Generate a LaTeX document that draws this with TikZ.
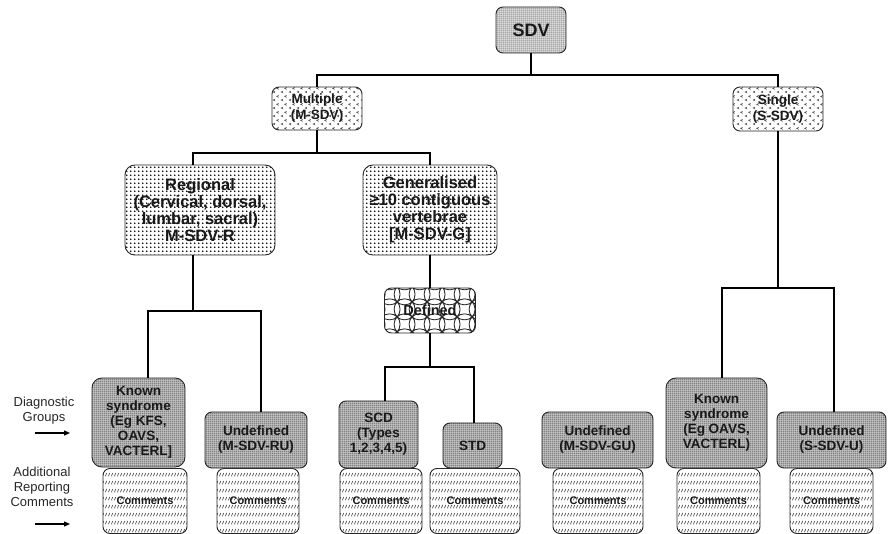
\documentclass[tikz,border=0pt]{standalone}
\usepackage{fontspec}
\setmainfont{Liberation Sans}
\usetikzlibrary{patterns.meta,arrows.meta}

\tikzdeclarepattern{name=sdvdots,type=uncolored,bottom left={(0pt,0pt)},top right={(2.2pt,2.2pt)},tile size={(2.2pt,2.2pt)},
  code={\pgfpathcircle{\pgfpoint{1.1pt}{1.1pt}}{0.7pt}\pgfusepath{fill}}}
\tikzdeclarepattern{name=chevs,type=uncolored,bottom left={(0pt,0pt)},top right={(8pt,8pt)},tile size={(8pt,8pt)},
  code={\pgfsetlinewidth{0.6pt}
    \pgfpathmoveto{\pgfpoint{3.4pt}{3.2pt}}\pgfpathlineto{\pgfpoint{1.4pt}{2.2pt}}\pgfpathlineto{\pgfpoint{3.4pt}{1.2pt}}
    \pgfpathmoveto{\pgfpoint{7.4pt}{7.2pt}}\pgfpathlineto{\pgfpoint{5.4pt}{6.2pt}}\pgfpathlineto{\pgfpoint{7.4pt}{5.2pt}}
    \pgfusepath{stroke}}}
\tikzdeclarepattern{name=coarsedots,type=uncolored,bottom left={(0pt,0pt)},top right={(4.2pt,4.2pt)},tile size={(4.2pt,4.2pt)},
  code={\pgfpathcircle{\pgfpoint{2.1pt}{2.1pt}}{0.95pt}\pgfusepath{fill}}}
\tikzdeclarepattern{name=chain,type=uncolored,bottom left={(0pt,0pt)},top right={(15pt,15pt)},tile size={(15pt,15pt)},
  code={\pgfsetlinewidth{0.9pt}
    \pgfpathcircle{\pgfpoint{0pt}{0pt}}{10.6pt}
    \pgfpathcircle{\pgfpoint{15pt}{0pt}}{10.6pt}
    \pgfpathcircle{\pgfpoint{0pt}{15pt}}{10.6pt}
    \pgfpathcircle{\pgfpoint{15pt}{15pt}}{10.6pt}
    \pgfusepath{stroke}}}
\tikzdeclarepattern{name=stipple,type=uncolored,bottom left={(0pt,0pt)},top right={(2.3pt,2.3pt)},tile size={(2.3pt,2.3pt)},
  code={\pgfpathcircle{\pgfpoint{1.15pt}{1.15pt}}{0.86pt}\pgfusepath{fill}}}
\tikzdeclarepattern{name=hatchrows,type=uncolored,bottom left={(0pt,0pt)},top right={(3pt,7.5pt)},tile size={(3pt,7.5pt)},
  code={\pgfsetlinewidth{0.7pt}
    \pgfpathmoveto{\pgfpoint{0.5pt}{1.8pt}}\pgfpathlineto{\pgfpoint{2.3pt}{5.2pt}}\pgfusepath{stroke}}}

\begin{document}
\begin{tikzpicture}[x=1pt,y=-1pt,
  box/.style={draw=black!85, line width=0.9pt, rounded corners=7pt, inner sep=0pt, align=center, text=black!90},
  sdvbox/.style={box, preaction={fill=black!12}, pattern={sdvdots}, pattern color=black!75, font=\fontsize{18}{20}\selectfont\bfseries},
  typebox/.style={box, pattern={chevs}, pattern color=black!75, font=\fontsize{13.5}{16}\selectfont\bfseries},
  extbox/.style={box, pattern={coarsedots}, pattern color=black, font=\fontsize{16.5}{17}\selectfont\bfseries},
  defbox/.style={box, pattern={chain}, pattern color=black!85, font=\fontsize{14.5}{15}\selectfont\bfseries},
  grpbox/.style={box, preaction={fill=black!18}, pattern={stipple}, pattern color=black!80, font=\fontsize{13.5}{15}\selectfont\bfseries},
  combox/.style={box, pattern={hatchrows}, pattern color=black!80, font=\fontsize{11}{13}\selectfont\bfseries, minimum height=65pt},
  conn/.style={draw=black, line width=2.2pt},
  arr/.style={draw=black, line width=1.2pt, -{Triangle[length=6pt,width=5pt]}},
  lbl/.style={align=center, inner sep=0pt, text=black!85, font=\fontsize{13}{15}\selectfont}]
\useasboundingbox (0,0) rectangle (889,534);

% comments row (drawn first, behind the groups)
\node[combox, minimum width=84pt] (c1) at (145,501) {Comments};
\node[combox, minimum width=82pt] (c2) at (258,501) {Comments};
\node[combox, minimum width=82pt] (c3) at (381,501) {Comments};
\node[combox, minimum width=90pt] (c4) at (475,501) {Comments};
\node[combox, minimum width=90pt] (c5) at (598,501) {Comments};
\node[combox, minimum width=83pt] (c6) at (718.5,501) {Comments};
\node[combox, minimum width=83pt] (c7) at (831.5,501) {Comments};

% boxes
\node[sdvbox, minimum width=70pt, minimum height=46pt] (sdv) at (531,30) {SDV};
\node[typebox, minimum width=90pt, minimum height=43pt] (mult) at (317,108.5) {Multiple\\(M-SDV)};
\node[typebox, minimum width=90pt, minimum height=44pt] (single) at (778,109) {Single\\(S-SDV)};
\node[extbox, minimum width=150pt, minimum height=90pt, rounded corners=10pt] (reg) at (200,210)
  {Regional\\(Cervical, dorsal,\\lumbar, sacral)\\M-SDV-R};
\node[extbox, minimum width=134pt, minimum height=90pt, rounded corners=10pt] (gen) at (430,210)
  {Generalised\\≥10 contiguous\\vertebrae\\{}[M-SDV-G]};
\node[defbox, minimum width=91pt, minimum height=45pt] (def) at (430,310.5) {Defined};
\node[grpbox, minimum width=93pt, minimum height=89pt, rounded corners=10pt] (known1) at (138.5,422.5)
  {Known\\syndrome\\(Eg KFS,\\OAVS,\\VACTERL]};
\node[grpbox, minimum width=102pt, minimum height=56pt] (undef1) at (256,440) {Undefined\\(M-SDV-RU)};
\node[grpbox, minimum width=79pt, minimum height=67pt] (scd) at (378.5,434.5) {SCD\\(Types\\1,2,3,4,5)};
\node[grpbox, minimum width=59pt, minimum height=45pt] (std) at (472.5,445.5) {STD};
\node[grpbox, minimum width=111pt, minimum height=56pt] (undefgu) at (597.5,440) {Undefined\\(M-SDV-GU)};
\node[grpbox, minimum width=101pt, minimum height=90pt, rounded corners=10pt] (known2) at (716.5,423)
  {Known\\syndrome\\(Eg OAVS,\\VACTERL)};
\node[grpbox, minimum width=109pt, minimum height=56pt] (undefs) at (831.5,440) {Undefined\\(S-SDV-U)};

% bus levels and drop positions
\coordinate (b1) at (0,75);
\coordinate (b2) at (0,153);
\coordinate (b3) at (0,311);
\coordinate (b4) at (0,367);
\coordinate (b5) at (0,288);
\coordinate (rx) at (193,0);
\coordinate (k1x) at (148,0);
\coordinate (u1x) at (261,0);
\coordinate (sx) at (385,0);
\coordinate (tx) at (474,0);
\coordinate (k2x) at (722,0);
\coordinate (u2x) at (834,0);

% connectors
\draw[conn] (sdv.south) -- (sdv.south |- b1);
\draw[conn] (mult.north) |- (single.north |- b1) -- (single.north);
\draw[conn] (mult.south) -- (mult.south |- b2);
\draw[conn] (reg.north -| rx) |- (gen.north |- b2) -- (gen.north);
\draw[conn] (reg.south -| rx) -- (rx |- b3);
\draw[conn] (known1.north -| k1x) |- (b3 -| u1x) -- (undef1.north -| u1x);
\draw[conn] (gen.south) -- (def.north);
\draw[conn] (def.south) -- (def.south |- b4);
\draw[conn] (scd.north -| sx) |- (b4 -| tx) -- (std.north -| tx);
\draw[conn] (single.south) -- (single.south |- b5);
\draw[conn] (known2.north -| k2x) |- (b5 -| u2x) -- (undefs.north -| u2x);

% side labels
\node[lbl] (dg) at (44,411) {Diagnostic\\Groups};
\node[lbl] (arc) at (42,487) {Additional\\Reporting\\Comments};
\coordinate (a1s) at (35,433);
\coordinate (a1e) at (70,433);
\coordinate (a2s) at (35,524);
\coordinate (a2e) at (70,524);
\draw[arr] (a1s) -- (a1e);
\draw[arr] (a2s) -- (a2e);
\end{tikzpicture}
\end{document}
